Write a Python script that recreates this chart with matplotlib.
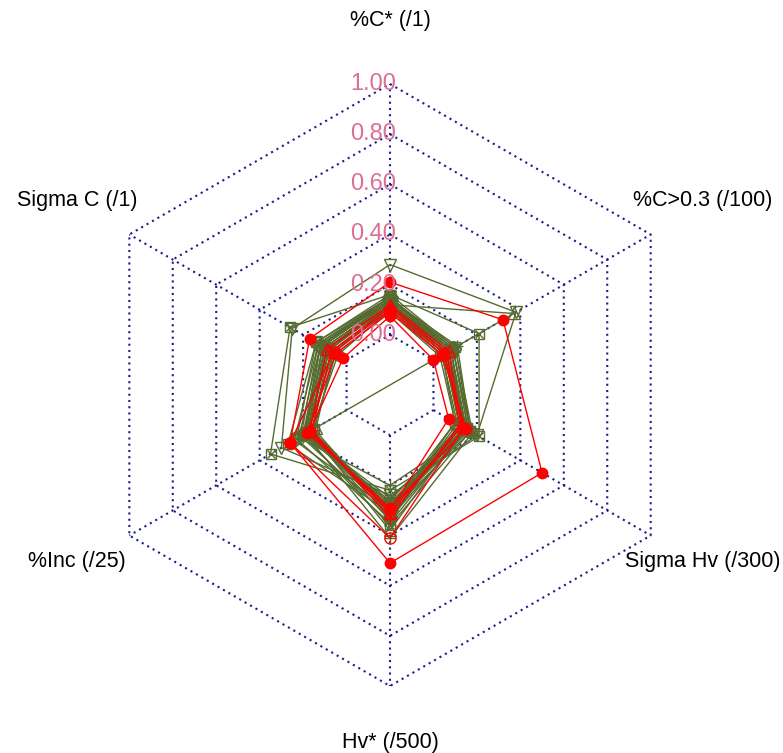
import numpy as np
import matplotlib
matplotlib.use("Agg")
import matplotlib.pyplot as plt

plt.rcParams['font.family'] = ['Liberation Sans', 'DejaVu Sans']

# axis order, clockwise from the top
axis_labels = ["%C* (/1)", "%C>0.3 (/100)", "Sigma Hv (/300)",
               "Hv* (/500)", "%Inc (/25)", "Sigma C (/1)"]
tick_labels = ["0.00", "0.20", "0.40", "0.60", "0.80", "1.00"]
nan = np.nan

# green group: %C*, %C>0.3, Sigma Hv, Hv*, %Inc, Sigma C (scaled 0-1)
green_values = [
    [0.28, 0.38, 0.20, 0.24, 0.30, 0.25],
    [0.12, 0.37, nan, nan, 0.14, 0.06],
    [0.16, 0.21, 0.21, 0.22, 0.35, 0.26],
    [0.14, 0.11, 0.17, 0.20, 0.22, 0.12],
    [0.13, 0.08, 0.15, 0.27, 0.20, 0.10],
    [0.12, 0.06, 0.13, 0.30, 0.18, 0.08],
    [0.15, 0.09, 0.16, 0.33, 0.21, 0.13],
    [0.11, 0.05, 0.12, 0.29, 0.17, 0.09],
    [0.14, 0.10, 0.18, 0.41, 0.19, 0.11],
    [0.10, 0.04, 0.11, 0.31, 0.16, 0.07],
    [0.13, 0.07, 0.14, 0.28, 0.19, 0.12],
    [0.09, 0.03, 0.10, 0.32, 0.15, 0.05],
    [0.15, 0.08, 0.15, 0.35, 0.23, 0.14],
    [0.12, 0.06, 0.13, 0.26, 0.20, 0.09],
    [0.11, 0.05, 0.12, 0.34, 0.18, 0.06],
    [0.14, 0.09, 0.16, 0.30, 0.24, 0.13],
    [0.13, 0.07, 0.14, 0.38, 0.17, 0.10],
    [0.10, 0.04, 0.10, 0.29, 0.16, 0.04],
    [0.16, 0.10, 0.17, 0.31, 0.27, 0.14],
    [0.12, 0.06, 0.15, 0.25, 0.19, 0.08],
    [0.14, 0.08, 0.14, 0.32, 0.18, 0.11],
    [0.13, 0.06, 0.13, 0.29, 0.17, 0.10],
    [0.15, 0.07, 0.15, 0.30, 0.19, 0.12],
    [0.12, 0.05, 0.12, 0.33, 0.16, 0.08],
    [0.14, 0.09, 0.17, 0.36, 0.20, 0.12],
    [0.13, 0.08, 0.15, 0.27, 0.18, 0.09],
]
green_markers = ['v', '^', 'sx', '+', 'o', 'x', 'D', 'v', '+', '^',
                 'o', 'sx', 'v', '+', 'x', 'D', '^', 'o', 'sx', '+',
                 's', '^', 'o', '+', 'sx', 's']

# red group
red_values = [
    [0.21, 0.32, 0.50, 0.51, 0.26, 0.17],
    [0.075, 0.00, 0.07, 0.30, 0.17, 0.015],
    [0.10, 0.05, 0.14, 0.41, 0.26, 0.06],
    [0.12, 0.07, 0.13, 0.31, 0.17, 0.09],
    [0.09, 0.04, 0.15, 0.29, 0.18, 0.05],
    [0.11, 0.06, 0.12, 0.33, 0.16, 0.07],
]
red_markers = ['o*', 'o*', 'o', '^', 'o*', '+']

green = '#556B2F'
red = '#FF0000'
grid_col = '#1C1C8C'
lab_col = '#DB7093'

n = len(axis_labels)
seg = 5
angles = np.pi / 2 - np.arange(n) * 2 * np.pi / n


def to_xy(vals):
    vals = np.asarray(vals, dtype=float)
    r = (1 + seg * vals) / (seg + 1)
    return r * np.cos(angles), r * np.sin(angles)


fig = plt.figure(figsize=(7.83, 7.53), dpi=100)
ax = fig.add_axes([0, 0, 1, 1])
ax.set_xlim(-1.2957, 1.3056)
ax.set_ylim(-1.2226, 1.279)
ax.axis('off')

# grid hexagons and spokes
dot = (0, (1.0, 2.0))
for i in range(seg + 1):
    r = (i + 1) / (seg + 1)
    xs = np.append(r * np.cos(angles), r * np.cos(angles[0]))
    ys = np.append(r * np.sin(angles), r * np.sin(angles[0]))
    ax.plot(xs, ys, color=grid_col, lw=1.5, linestyle=dot, zorder=1)
r0 = 1 / (seg + 1)
for a in angles:
    ax.plot([r0 * np.cos(a), np.cos(a)], [r0 * np.sin(a), np.sin(a)],
            color=grid_col, lw=1.5, linestyle=dot, zorder=1)


def draw_series(vals, mk, col, z):
    x, y = to_xy(vals)
    ok = ~np.isnan(x)
    xs, ys = x[ok], y[ok]
    ax.plot(np.append(xs, xs[0]), np.append(ys, ys[0]), color=col, lw=1.0, zorder=z)
    if mk == 'sx':
        ax.plot(xs, ys, 's', ms=7.5, mfc='none', mec=col, mew=1.0, zorder=z)
        ax.plot(xs, ys, 'x', ms=6, mec=col, mew=1.0, zorder=z)
    elif mk == 'o*':
        ax.plot(xs, ys, 'o', ms=7.5, mfc=col, mec=col, zorder=z + 0.5)
    elif mk in ('+', 'x'):
        ax.plot(xs, ys, mk, ms=8.5, mec=col, mew=1.0, zorder=z)
    else:
        ax.plot(xs, ys, mk, ms=8, mfc='none', mec=col, mew=1.0, zorder=z)


for k, (vals, mk) in enumerate(zip(green_values, green_markers)):
    draw_series(vals, mk, green, 2 + k * 0.01)
for k, (vals, mk) in enumerate(zip(red_values, red_markers)):
    draw_series(vals, mk, red, 3 + k * 0.01)

# tick labels along the top axis
for i, t in enumerate(tick_labels):
    r = (i + 1) / (seg + 1)
    ax.text(0.02, r, t, color=lab_col, fontsize=17, ha='right', va='center',
            zorder=5)

# axis labels
for a, lab in zip(angles, axis_labels):
    ax.text(1.2 * np.cos(a), 1.2 * np.sin(a) + 0.012, lab, fontsize=15.5,
            ha='center', va='center', color='black')

fig.savefig('out.png', dpi=100)
